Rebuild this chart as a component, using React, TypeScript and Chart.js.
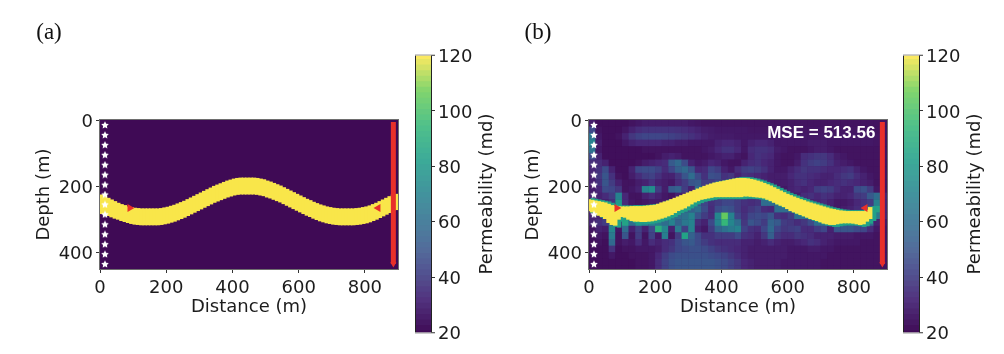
import React, { useEffect, useRef } from "react";
import { Chart, registerables } from "chart.js";

Chart.register(...registerables);

const FONT = "'DejaVu Sans'";
const INK = "#1c1c1c";
const SPINE = "#6e6e6e";
const RED = "#e8302a";

const xTicks = [0, 200, 400, 600, 800];
const yTicks = [0, 200, 400];
const cbTicks = [20, 40, 60, 80, 100, 120];

const columnsFine = [5,15,25,35,45,55,65,75,85,95,105,115,125,135,145,155,165,175,185,195,205,215,225,235,245,255,265,275,285,295,305,315,325,335,345,355,365,375,385,395,405,415,425,435,445,455,465,475,485,495,505,515,525,535,545,555,565,575,585,595,605,615,625,635,645,655,665,675,685,695,705,715,725,735,745,755,765,775,785,795,805,815,825,835,845,855,865,875,885,895];

const trueTop = [226,231,236,241,246,251,255,258,262,264,266,267,268,268,268,268,268,268,267,265,263,260,257,253,249,245,240,235,230,225,220,215,210,205,200,196,192,188,184,181,178,176,175,175,175,175,175,176,178,180,184,187,191,195,199,204,209,214,219,224,229,234,239,243,248,252,256,259,262,264,266,267,268,268,268,268,268,267,266,264,262,259,255,251,246,241,236,231,226,224];
const trueBottom = [283,285,289,293,297,300,304,307,310,313,315,316,317,317,317,317,317,317,316,314,312,309,306,302,298,294,289,284,279,274,269,264,259,254,249,245,241,237,233,230,227,225,224,224,224,224,224,225,227,229,233,236,240,244,248,253,258,263,268,273,278,283,288,292,297,301,305,308,311,313,315,316,317,317,317,317,317,316,315,313,311,308,304,300,295,290,285,280,274,271];

const predTop = [240,242,244,246,248,250,254,258,260,262,262,262,262,261,261,261,261,260,259,258,257,254,250,247,244,240,236,232,228,224,220,216,212,208,204,200,196,193,190,188,186,184,182,180,178,176,176,176,177,179,181,184,187,191,195,199,204,209,214,219,224,228,232,236,240,243,247,250,253,256,259,262,265,268,270,272,274,275,276,276,276,276,276,276,272,264,0,0,0,0];
const predBottom = [274,278,282,288,292,298,310,316,318,300,292,294,300,304,306,306,307,307,306,305,303,300,297,294,290,286,280,274,270,266,260,254,248,244,240,238,236,234,232,232,232,232,232,232,232,232,232,230,230,231,232,233,234,236,240,244,249,254,258,262,268,274,278,282,286,290,294,298,301,304,308,312,314,316,316,314,312,311,311,311,312,314,316,314,306,298,0,0,0,0];

const cellColumns = [10,30,50,70,90,110,130,150,170,190,210,230,250,270,290,310,330,350,370,390,410,430,450,470,490,510,530,550,570,590,610,630,650,670,690,710,730,750,770,790,810,830,850,870,890];
const cellRows = [10,30,50,70,90,110,130,150,170,190,210,230,250,270,290,310,330,350,370,390,410,430,450];

const predRow010 = [28,22,22,22,22,22,24,26,28,28,28,28,28,28,28,26,25,24,24,24,24,24,24,24,24,24,24,24,24,24,24,24,24,24,24,24,24,24,24,24,24,24,24,24,24];
const predRow030 = [45,24,22,22,22,25,30,34,36,36,36,36,36,35,34,32,30,28,27,26,26,26,26,26,25,25,25,25,25,25,25,25,25,25,25,25,25,25,25,25,25,25,25,24,24];
const predRow050 = [62,26,22,22,24,30,38,42,44,44,44,43,42,40,38,36,33,30,28,27,27,27,26,26,26,26,26,26,26,26,26,26,26,26,26,26,26,26,26,26,26,26,26,25,24];
const predRow070 = [70,28,22,22,22,26,30,32,32,32,32,30,30,28,28,26,26,26,26,30,32,32,30,26,30,32,32,30,26,26,26,26,26,28,28,28,26,26,26,26,26,26,26,25,24];
const predRow090 = [62,26,22,22,22,22,22,22,24,24,24,24,24,24,24,24,24,26,28,32,36,36,32,26,34,36,36,34,28,26,24,24,24,26,28,28,26,24,24,24,24,24,24,24,24];
const predRow110 = [45,30,22,22,22,22,22,22,22,22,24,28,30,28,24,24,24,24,26,28,30,30,26,24,32,36,34,32,26,24,24,26,34,36,38,38,34,28,26,24,24,24,24,24,24];
const predRow130 = [35,34,30,22,22,22,22,24,28,30,32,34,52,58,46,30,26,28,32,30,26,24,24,30,34,36,32,30,26,24,24,28,36,40,42,40,36,30,28,26,24,24,24,24,24];
const predRow150 = [32,36,46,30,22,22,30,44,46,46,42,34,44,54,58,50,32,34,44,40,30,26,34,40,42,40,36,30,26,26,30,34,38,36,36,34,32,32,34,36,30,26,24,24,24];
const predRow170 = [30,38,50,36,24,22,28,34,40,42,36,30,30,38,50,60,46,36,48,46,36,38,30,36,34,32,30,28,28,28,32,36,36,34,32,30,30,34,38,40,34,30,26,24,24];
const predRow190 = [30,36,50,40,30,24,24,28,30,36,30,28,26,34,40,50,52,40,40,44,40,36,60,60,60,30,34,30,28,28,30,34,36,32,30,30,32,34,36,34,32,30,28,24,24];
const predRow210 = [28,32,46,44,38,24,26,30,70,75,40,28,52,55,40,30,60,60,60,60,60,60,60,60,60,60,60,40,28,26,30,32,30,32,40,42,40,34,30,30,45,48,40,26,24];
const predRow230 = [30,30,34,40,70,32,24,24,30,34,30,26,24,30,30,60,60,60,60,60,60,60,60,60,60,60,60,60,60,26,26,28,34,36,32,36,34,30,30,32,38,40,52,60,30];
const predRow250 = [35,30,30,36,80,34,26,24,26,28,28,28,60,60,60,60,50,44,36,40,44,44,40,36,34,36,60,60,60,60,60,30,28,30,32,34,30,26,26,28,32,36,40,70,30];
const predRow270 = [35,30,34,36,85,70,50,60,60,60,60,60,60,60,60,55,60,46,34,46,50,48,40,34,38,42,34,32,60,60,60,60,60,60,30,28,26,26,28,30,34,36,60,85,30];
const predRow290 = [30,30,60,60,70,75,60,60,60,60,60,60,60,60,62,70,50,40,34,72,105,70,44,36,44,46,44,50,36,34,40,60,60,60,60,60,60,30,60,60,60,60,60,66,30];
const predRow310 = [30,35,40,60,30,85,60,80,75,70,65,60,70,55,65,70,35,30,45,70,95,72,60,38,50,46,40,56,52,40,38,34,38,46,60,60,60,60,60,60,60,60,60,30,26];
const predRow330 = [24,30,28,72,26,60,30,42,30,45,90,72,30,66,42,70,30,26,40,56,62,66,70,42,36,34,44,58,44,38,40,42,34,34,40,44,30,50,50,50,46,44,34,26,24];
const predRow350 = [22,26,24,66,24,50,24,40,24,42,26,68,24,40,85,55,45,36,36,40,40,40,46,36,34,30,38,54,38,34,34,38,36,34,30,30,30,28,28,28,26,26,26,24,24];
const predRow370 = [22,24,22,58,24,28,26,34,26,34,30,34,36,44,50,52,46,40,36,34,34,34,34,30,30,28,30,34,30,28,28,30,32,36,34,30,28,26,26,26,26,24,24,24,24];
const predRow390 = [22,22,22,36,22,24,24,26,26,26,28,34,38,44,46,48,48,46,42,38,36,34,32,30,28,28,28,28,28,28,26,26,26,28,28,26,26,24,24,24,24,24,24,24,24];
const predRow410 = [22,22,22,26,22,22,24,24,24,26,32,40,46,48,48,48,48,48,46,44,42,38,34,30,28,28,28,28,28,28,26,26,26,26,26,26,24,24,24,24,24,24,24,24,24];
const predRow430 = [22,22,22,22,22,22,22,24,24,26,34,42,48,50,50,50,50,50,50,48,46,42,38,32,30,28,28,28,28,26,26,26,26,26,26,24,24,24,24,24,24,24,24,24,24];
const predRow450 = [22,22,22,22,22,22,22,24,24,26,34,42,48,50,50,50,50,50,50,48,46,42,38,32,30,28,28,28,28,26,26,26,26,26,26,24,24,24,24,24,24,24,24,24,24];
const predRows = [predRow010,predRow030,predRow050,predRow070,predRow090,predRow110,predRow130,predRow150,predRow170,predRow190,predRow210,predRow230,predRow250,predRow270,predRow290,predRow310,predRow330,predRow350,predRow370,predRow390,predRow410,predRow430,predRow450];

const sourceX = [15,15,15,15,15,15,15,15,15,15,15,15,15,15,15];
const sourceY = [15,45,75,105,135,165,195,225,255,285,315,345,375,405,435];
const receiverLineX = [886,886];
const receiverLineY = [6,435];
const trueProducerX = [90,840];
const predProducerX = [84,834];
const producerY = [266,266];
const colorbarLevels = [20,22,24,26,28,30,32,34,36,38,40,42,44,46,48,50,52,54,56,58,60,62,64,66,68,70,72,74,76,78,80,82,84,86,88,90,92,94,96,98,100,102,104,106,108,110,112,114,116,118,120];

const VIRIDIS: number[][] = [
  [63, 10, 85], [72, 40, 120], [62, 73, 137], [49, 104, 142], [38, 130, 142],
  [31, 158, 137], [53, 183, 121], [110, 206, 88], [249, 230, 74],
];
function colorOf(v: number, mix = 0): string {
  const t = Math.max(0, Math.min(1, (v - 20) / 100)) * (VIRIDIS.length - 1);
  const i = Math.min(VIRIDIS.length - 2, Math.floor(t));
  const f = t - i;
  const c = VIRIDIS[i].map((a, k) => Math.round(a + (VIRIDIS[i + 1][k] - a) * f)).map((a) => Math.round(a + (255 - a) * mix));
  return `rgb(${c[0]},${c[1]},${c[2]})`;
}
const colorbarTint = (v: number) => colorOf(v, 0.13 * Math.min(1, (v - 20) / 30));

function starCanvas(size: number, color: string) {
  const c = document.createElement("canvas");
  c.width = size; c.height = size;
  const g = c.getContext("2d")!;
  g.fillStyle = color;
  g.beginPath();
  const cx = size / 2, cy = size / 2 + 0.3, R = size / 2, r = R * 0.5;
  for (let k = 0; k < 10; k++) {
    const rad = k % 2 ? r : R;
    const a = -Math.PI / 2 + (k * Math.PI) / 5;
    g.lineTo(cx + rad * Math.cos(a), cy + rad * Math.sin(a));
  }
  g.closePath();
  g.fill();
  return c;
}

const zip = (xs: number[], ys: number[]) => xs.map((x, i) => ({ x, y: ys[i] }));

function panelConfig(
  top: number[], bottom: number[], producerX: number[], label: string,
  cells: boolean, note: string | null,
) {
  const star = starCanvas(8, "#ffffff");
  const present = columnsFine.map((x, i) => ({ x, t: top[i], b: bottom[i] })).filter((c) => c.b > c.t);
  const datasets: any[] = [
    { type: "scatter", order: 1, data: zip(sourceX, sourceY), pointStyle: star, pointRadius: 4, clip: 0 },
    { type: "scatter", order: 1, data: [{ x: producerX[0], y: producerY[0] }], pointStyle: "triangle", rotation: 90, pointRadius: 4.6, backgroundColor: RED, borderWidth: 0, clip: 0 },
    { type: "scatter", order: 1, data: [{ x: producerX[1], y: producerY[1] }], pointStyle: "triangle", rotation: -90, pointRadius: 4.6, backgroundColor: RED, borderWidth: 0, clip: 0 },
    { type: "scatter", order: 1, showLine: true, data: zip(receiverLineX, receiverLineY), borderColor: RED, borderWidth: 5, pointRadius: [0, 3.5], pointBorderWidth: 0, pointStyle: "triangle", rotation: 180, pointBackgroundColor: RED, clip: 0 },
    { type: "bar", order: 2, data: present.map((c) => ({ x: c.x, y: [c.t, c.b] })), backgroundColor: colorOf(120), barThickness: 3.9, borderWidth: 0 },
  ];
  if (cells) {
    datasets.push({
      type: "bar", order: 3,
      data: present.map((c) => ({ x: c.x, y: [c.t - 3, c.b + 6] })),
      backgroundColor: colorOf(84), barThickness: 3.9, borderWidth: 0,
    });
    const pts: { x: number; y: number; v: number }[] = [];
    predRows.forEach((row, j) => row.forEach((v, i) => pts.push({ x: cellColumns[i], y: cellRows[j], v })));
    datasets.push({
      type: "scatter", order: 4, data: pts, pointStyle: "rect", pointRadius: 4.95, borderWidth: 0, clip: 0,
      backgroundColor: pts.map((p) => colorOf(p.v)),
    });
  }
  const paneldraw = {
    id: "paneldraw",
    beforeDatasetsDraw(c: any) {
      const a = c.chartArea, g = c.ctx;
      g.save(); g.fillStyle = colorOf(20); g.fillRect(a.left, a.top, a.right - a.left, a.bottom - a.top); g.restore();
    },
    afterDraw(c: any) {
      const a = c.chartArea, g = c.ctx;
      g.save();
      g.strokeStyle = SPINE; g.lineWidth = 1;
      g.strokeRect(a.left - 0.5, a.top - 0.5, a.right - a.left + 1, a.bottom - a.top + 1);
      g.fillStyle = "#111"; g.textAlign = "center"; g.textBaseline = "middle";
      g.font = "23px 'Liberation Serif'";
      g.fillText(label, 49, 33);
      if (note) {
        g.fillStyle = "#ffffff"; g.font = "bold 17px 'Liberation Sans'"; g.textAlign = "right";
        g.fillText(note, c.scales.x.getPixelForValue(865), c.scales.y.getPixelForValue(40));
      }
      g.restore();
    },
  };
  const axis = (ticks: number[], title: string, fit: (s: any) => void, extra: any, tickExtra: any) => ({
    type: "linear",
    offset: false,
    afterBuildTicks: (s: any) => { s.ticks = ticks.map((value) => ({ value })); },
    afterFit: fit,
    grid: { drawOnChartArea: false, drawTicks: true, tickLength: 4, color: "#333", tickWidth: 1, offset: false },
    border: { display: true, color: SPINE },
    ticks: { color: INK, font: { family: FONT, size: 18 }, padding: 3, maxRotation: 0, autoSkip: false, ...tickExtra },
    title: { display: true, text: title, color: INK, font: { family: FONT, size: 18 }, padding: { top: 4, bottom: 4 } },
    ...extra,
  });
  return {
    type: "bar" as const,
    data: { datasets },
    plugins: [paneldraw],
    options: {
      responsive: false, animation: false as const, devicePixelRatio: 1, events: [],
      layout: { padding: { left: 30, right: 12, top: 120, bottom: 32 } },
      plugins: { legend: { display: false }, tooltip: { enabled: false } },
      scales: {
        x: axis(xTicks, "Distance (m)", (s) => { s.height = 53; }, { min: 0, max: 900, position: "bottom" }, { padding: 5 }),
        y: axis(yTicks, "Depth (m)", (s) => { s.width = 70; }, { min: 0, max: 450, reverse: true, position: "left" }, { labelOffset: 2 }),
      },
    },
  };
}

function colorbarConfig() {
  const frame = {
    id: "frame",
    afterDraw(c: any) {
      const a = c.chartArea, g = c.ctx;
      g.save();
      g.strokeStyle = "#222"; g.lineWidth = 1;
      g.beginPath(); g.moveTo(a.left - 0.5, a.top); g.lineTo(a.left - 0.5, a.bottom); g.stroke();
      g.strokeStyle = "#9a9a9a";
      g.beginPath();
      g.moveTo(a.left - 1, a.top - 0.5); g.lineTo(a.right + 4, a.top - 0.5);
      g.moveTo(a.left - 1, a.bottom + 0.5); g.lineTo(a.right + 4, a.bottom + 0.5);
      g.stroke();
      g.translate(85, 194); g.rotate(-Math.PI / 2);
      g.fillStyle = INK; g.font = `18px ${FONT}`; g.textAlign = "center"; g.textBaseline = "middle";
      g.fillText("Permeability (md)", 0, 0);
      g.restore();
    },
  };
  return {
    type: "bar" as const,
    data: {
      datasets: [{
        data: colorbarLevels.map((y) => ({ x: 1, y })),
        backgroundColor: colorbarLevels.map(colorbarTint),
        barThickness: 6.5, borderWidth: 0,
      }],
    },
    plugins: [frame],
    options: {
      indexAxis: "y" as const,
      responsive: false, animation: false as const, devicePixelRatio: 1, events: [],
      layout: { padding: { left: 14, right: 0, top: 55.5, bottom: 21.5 } },
      plugins: { legend: { display: false }, tooltip: { enabled: false } },
      scales: {
        x: { type: "linear", min: 0, max: 1, display: false },
        y: {
          type: "linear", position: "right", min: 20, max: 120, offset: false,
          afterBuildTicks: (s: any) => { s.ticks = cbTicks.map((value) => ({ value })); },
          afterFit: (s: any) => { s.width = 71; },
          grid: { drawOnChartArea: false, drawTicks: true, tickLength: 4, color: "#333", offset: false },
          border: { display: true, color: "#222" },
          ticks: { color: INK, font: { family: FONT, size: 18 }, padding: 3, labelOffset: 2 },
        },
      },
    },
  };
}

function Canvas({ cfg, left, width }: { cfg: () => any; left: number; width: number }) {
  const ref = useRef<HTMLCanvasElement>(null);
  useEffect(() => {
    const chart = new Chart(ref.current!, cfg());
    return () => chart.destroy();
  }, []);
  return <canvas ref={ref} width={width} height={354} style={{ position: "absolute", left, top: 0, width, height: 354 }} />;
}

export default function App() {
  return (
    <div style={{ position: "fixed", left: 0, top: 0, width: 1004, height: 354, background: "#fff", overflow: "hidden" }}>
      <Canvas left={0} width={410} cfg={() => panelConfig(trueTop, trueBottom, trueProducerX, "(a)", false, null)} />
      <Canvas left={402} width={100} cfg={colorbarConfig} />
      <Canvas left={489} width={410} cfg={() => panelConfig(predTop, predBottom, predProducerX, "(b)", true, "MSE = 513.56")} />
      <Canvas left={890} width={100} cfg={colorbarConfig} />
    </div>
  );
}
